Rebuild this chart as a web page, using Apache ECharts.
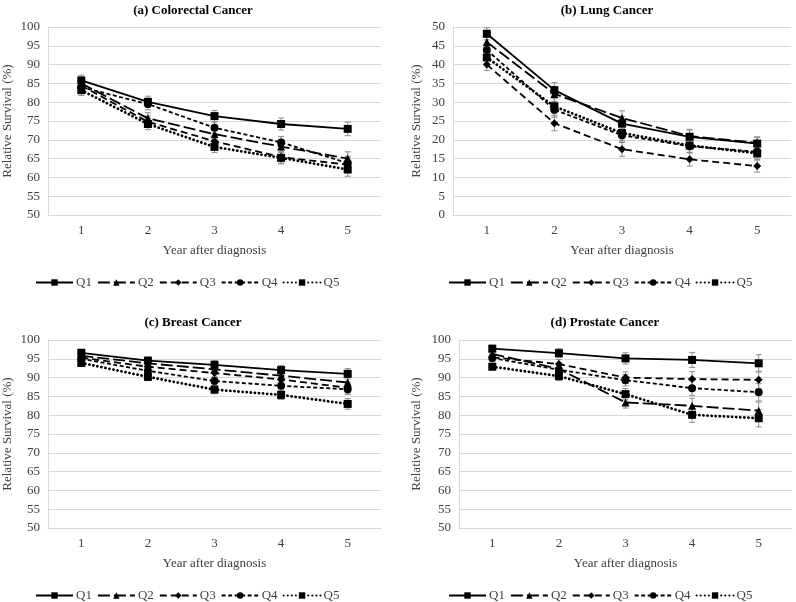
<!DOCTYPE html>
<html><head><meta charset="utf-8">
<script src="https://cdn.jsdelivr.net/npm/echarts@6/dist/echarts.min.js"></script>
<style>html,body{margin:0;padding:0;background:#fff}#c{width:796px;height:602px}</style>
</head><body><div id="c"></div>
<script>
const years = ['1', '2', '3', '4', '5'];
const quintiles = ['Q1', 'Q2', 'Q3', 'Q4', 'Q5'];
const panelTitles = ['(a) Colorectal Cancer', '(b) Lung Cancer', '(c) Breast Cancer', '(d) Prostate Cancer'];
const yMins = [50, 0, 50, 50];
const yMaxs = [100, 50, 100, 100];

// (a) Colorectal
const colorectalQ1 = [85.8, 80.1, 76.3, 74.2, 72.9];
const colorectalQ2 = [85.0, 75.7, 71.5, 68.2, 65.0];
const colorectalQ3 = [84.4, 74.8, 69.6, 65.4, 63.4];
const colorectalQ4 = [84.0, 79.5, 73.2, 69.3, 63.8];
const colorectalQ5 = [83.2, 74.2, 68.1, 65.2, 62.1];
const colorectalErr = [1.4, 1.5, 1.5, 1.6, 1.8];

// (b) Lung
const lungQ1 = [48.2, 33.2, 24.3, 20.8, 19.0];
const lungQ2 = [46.0, 32.2, 25.8, 21.0, 19.2];
const lungQ3 = [40.0, 24.4, 17.5, 14.8, 13.0];
const lungQ4 = [43.9, 28.0, 21.2, 18.3, 16.8];
const lungQ5 = [41.9, 28.9, 21.8, 18.5, 16.4];
const lungErr = [1.6, 2.0, 1.9, 1.8, 1.6];

// (c) Breast
const breastQ1 = [96.6, 94.5, 93.4, 92.0, 91.0];
const breastQ2 = [95.8, 93.8, 92.2, 90.5, 88.7];
const breastQ3 = [95.3, 92.9, 91.2, 89.5, 87.3];
const breastQ4 = [95.0, 91.8, 89.1, 87.8, 86.9];
const breastQ5 = [93.9, 90.2, 86.8, 85.4, 83.0];
const breastErr = [0.9, 1.0, 1.1, 1.2, 1.4];

// (d) Prostate
const prostateQ1 = [97.7, 96.5, 95.1, 94.7, 93.8];
const prostateQ2 = [96.3, 92.3, 83.4, 82.5, 81.2];
const prostateQ3 = [95.4, 93.6, 90.0, 89.6, 89.4];
const prostateQ4 = [95.2, 92.1, 89.3, 87.2, 86.1];
const prostateQ5 = [92.9, 90.4, 85.6, 80.1, 79.2];
const prostateErr = [0.9, 1.2, 1.5, 2.0, 2.3];

const panels = [
  [colorectalQ1, colorectalQ2, colorectalQ3, colorectalQ4, colorectalQ5, colorectalErr],
  [lungQ1, lungQ2, lungQ3, lungQ4, lungQ5, lungErr],
  [breastQ1, breastQ2, breastQ3, breastQ4, breastQ5, breastErr],
  [prostateQ1, prostateQ2, prostateQ3, prostateQ4, prostateQ5, prostateErr]
];

const grids = [
  {left: 46, top: 27, width: 335, height: 188},
  {left: 453, top: 27, width: 338, height: 188},
  {left: 46, top: 340, width: 335, height: 188},
  {left: 459, top: 340, width: 333, height: 188}
];
const titlePos = [[188, -1], [602, -1], [188, 311], [600, 311]];
const legendPos = [[35, 276], [448, 276], [35, 589], [448, 589]];
const yNameGap = [34, 30, 34, 36];

const FONT = 'Liberation Serif';
const styles = [
  {symbol: 'rect', size: 8, dash: 'solid', width: 1.8},
  {symbol: 'triangle', size: 8, dash: [12, 4], width: 1.8},
  {symbol: 'diamond', size: 8, dash: [7, 4], width: 1.8},
  {symbol: 'circle', size: 8, dash: [4, 2.5], width: 1.8},
  {symbol: 'rect', size: 8, dash: [0.1, 4], width: 2.8, cap: 'round'}
];

const option = {
  animation: false,
  backgroundColor: '#fff',
  title: panelTitles.map((t, i) => ({
    text: t, left: titlePos[i][0], top: titlePos[i][1], textAlign: 'center',
    textStyle: {fontFamily: FONT, fontWeight: 'bold', fontSize: 13, color: '#000'}
  })),
  legend: legendPos.map(p => ({
    data: quintiles, left: p[0], top: p[1], width: 380, itemWidth: 37, itemHeight: 8, itemGap: 5,
    textStyle: {fontFamily: FONT, fontSize: 13, color: '#404040', padding: [0, 0, 0, -2]}, padding: 0
  })),
  grid: grids,
  xAxis: grids.map((g, i) => ({
    type: 'category', gridIndex: i, data: years, boundaryGap: true,
    name: 'Year after diagnosis', nameLocation: 'middle', nameGap: 29,
    nameTextStyle: {fontFamily: FONT, fontSize: 13, color: '#404040'},
    axisLine: {lineStyle: {color: '#d9d9d9'}}, axisTick: {show: false},
    axisLabel: {fontFamily: FONT, fontSize: 13, color: '#404040', margin: 9}
  })),
  yAxis: grids.map((g, i) => ({
    type: 'value', gridIndex: i, min: yMins[i], max: yMaxs[i], interval: 5,
    name: 'Relative Survival (%)', nameLocation: 'middle', nameGap: yNameGap[i], nameRotate: 90,
    nameTextStyle: {fontFamily: FONT, fontSize: 13, color: '#404040'},
    axisLine: {show: true, lineStyle: {color: '#d9d9d9'}}, axisTick: {show: false},
    splitLine: {lineStyle: {color: '#d9d9d9'}},
    axisLabel: {fontFamily: FONT, fontSize: 13, color: '#404040', margin: 8}
  })),
  series: []
};

panels.forEach((p, i) => {
  const err = p[5];
  const errData = [];
  for (let q = 0; q < 5; q++) {
    p[q].forEach((v, k) => errData.push([k, v - err[k], v + err[k]]));
  }
  option.series.push({
    type: 'custom', name: 'err' + i, xAxisIndex: i, yAxisIndex: i, z: 1,
    data: errData, encode: {x: 0, y: [1, 2]},
    renderItem: (params, api) => {
      const a = api.coord([api.value(0), api.value(2)]);
      const b = api.coord([api.value(0), api.value(1)]);
      const w = 3;
      const st = {stroke: '#8c8c8c', lineWidth: 1};
      return {type: 'group', children: [
        {type: 'line', shape: {x1: a[0], y1: a[1], x2: b[0], y2: b[1]}, style: st},
        {type: 'line', shape: {x1: a[0] - w, y1: a[1], x2: a[0] + w, y2: a[1]}, style: st},
        {type: 'line', shape: {x1: b[0] - w, y1: b[1], x2: b[0] + w, y2: b[1]}, style: st}
      ]};
    }
  });
  for (let q = 0; q < 5; q++) {
    const s = styles[q];
    option.series.push({
      type: 'line', name: quintiles[q], xAxisIndex: i, yAxisIndex: i, z: 3,
      data: p[q], symbol: s.symbol, symbolSize: s.size, showSymbol: true,
      itemStyle: {color: '#000'},
      lineStyle: {color: '#000', width: s.width, type: s.dash, cap: s.cap || 'butt'}
    });
  }
});

const chart = echarts.init(document.getElementById('c'), null, {renderer: 'canvas'});
chart.setOption(option);
</script></body></html>
